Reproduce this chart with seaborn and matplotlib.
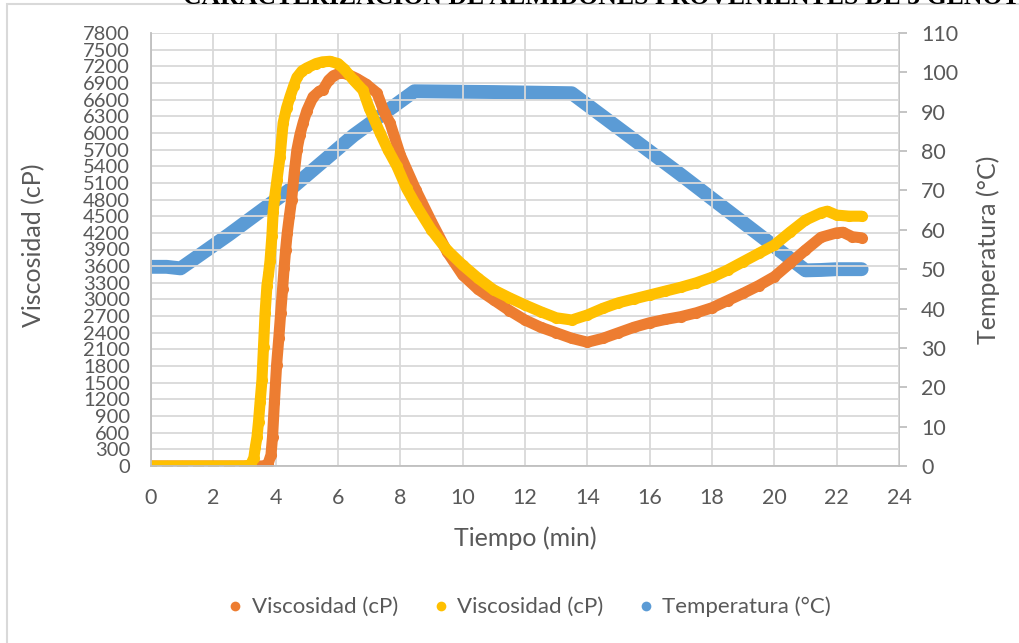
import numpy as np
import pandas as pd
import seaborn as sns
import matplotlib.pyplot as plt
from matplotlib.lines import Line2D
from matplotlib.patches import Rectangle

# viscosidad muestra 1 (naranja)
t_visc1 = [0, 0.5, 1, 1.5, 2, 2.5, 3, 3.3, 3.6, 3.75, 3.85, 3.9, 3.96, 4.03, 4.1, 4.16,
           4.22, 4.27, 4.32, 4.37, 4.44, 4.51, 4.6, 4.68, 4.78, 4.88, 5.0, 5.2, 5.4,
           5.52, 5.7, 5.85, 6.07, 6.3, 6.6, 6.9, 7.25, 7.5, 7.67, 8.0, 8.5, 9.0, 9.5,
           10.0, 10.5, 11.0, 11.5, 12.0, 12.5, 13.0, 13.5, 14.0, 14.5, 15.0, 15.5, 16.0,
           16.5, 17.0, 17.5, 18.0, 18.5, 19.0, 19.5, 20.0, 20.5, 21.0, 21.5, 22.0, 22.2,
           22.5, 22.8]
visc1 = [0, 0, 0, 0, 0, 0, 0, 0, 0, 30, 200, 530, 1150, 1820, 2300, 2750,
         3180, 3560, 3900, 4190, 4500, 4790, 5300, 5690, 5970, 6180, 6400, 6650, 6750,
         6780, 6950, 7030, 7080, 7060, 6980, 6880, 6720, 6350, 6180, 5600, 4970, 4400, 3860,
         3440, 3180, 2990, 2800, 2630, 2500, 2400, 2300, 2230, 2300, 2400, 2500, 2580,
         2640, 2690, 2760, 2850, 2980, 3110, 3250, 3410, 3650, 3890, 4120, 4200, 4210,
         4130, 4110]

# viscosidad muestra 2 (amarillo)
t_visc2 = [0, 0.5, 1, 1.5, 2, 2.5, 3, 3.2, 3.3, 3.35, 3.4, 3.45, 3.5, 3.56, 3.61, 3.66,
           3.72, 3.77, 3.82, 3.88, 3.92, 3.97, 4.04, 4.14, 4.24, 4.35, 4.46, 4.58, 4.68,
           4.85, 5.0, 5.3, 5.5, 5.74, 6.0, 6.2, 6.5, 6.8, 7.0, 7.35, 7.6, 7.89, 8.2, 8.5,
           9.0, 9.5, 10.0, 10.5, 11.0, 11.5, 12.0, 12.5, 13.0, 13.5, 14.0, 14.5, 15.0,
           15.5, 16.0, 16.5, 17.0, 17.5, 18.0, 18.5, 19.0, 19.5, 20.0, 20.5, 21.0, 21.5,
           21.7, 22.0, 22.4, 22.8]
visc2 = [0, 0, 0, 0, 0, 0, 0, 20, 150, 350, 520, 800, 1150, 1550, 2150, 2750,
         3250, 3450, 3700, 4150, 4580, 4850, 5150, 5570, 6180, 6450, 6650, 6850, 7000,
         7120, 7170, 7250, 7280, 7290, 7250, 7150, 6950, 6770, 6450, 6000, 5700, 5400, 5000, 4700,
         4250, 3890, 3620, 3380, 3170, 3030, 2900, 2780, 2670, 2630, 2720, 2840, 2940,
         3010, 3080, 3150, 3220, 3300, 3400, 3530, 3680, 3830, 3980, 4210, 4430, 4560,
         4590, 4520, 4500, 4500]

# temperatura
t_temp = [0, 0.5, 0.95, 2.5, 4.5, 6.5, 8.45, 11.0, 13.5, 17.0, 21.0, 21.5, 22.0, 22.8]
temp = [50.6, 50.6, 50.2, 58.8, 70.5, 84.0, 95.2, 95.0, 94.7, 74.0, 49.7, 49.8, 50.0, 50.0]

orange = "#ED7D31"
yellow = "#FFC000"
blue = "#5B9BD5"
grid_c = "#D9D9D9"
text_c = "#595959"

sns.set_style("white")
plt.rcParams['font.family'] = ['Lato', 'DejaVu Sans']

fig = plt.figure(figsize=(10.2, 6.43), dpi=100)
ax = fig.add_axes([151 / 1020, 1 - 466 / 643, 748 / 1020, 433 / 643])
ax2 = ax.twinx()

# temperatura detras
sns.lineplot(x=t_temp, y=temp, ax=ax2, color=blue, lw=10, estimator=None,
             solid_capstyle='round', solid_joinstyle='round')

sns.lineplot(x=t_visc1, y=visc1, ax=ax, color=orange, lw=8, estimator=None,
             marker='o', markersize=8, markeredgewidth=0,
             solid_capstyle='round', solid_joinstyle='round')
sns.lineplot(x=t_visc2, y=visc2, ax=ax, color=yellow, lw=8, estimator=None,
             marker='o', markersize=8, markeredgewidth=0,
             solid_capstyle='round', solid_joinstyle='round')

ax.set_zorder(ax2.get_zorder() + 1)
ax.patch.set_visible(False)

ax.set_xlim(0, 24)
ax.set_ylim(0, 7800)
ax2.set_ylim(0, 110)
ax.set_xticks(np.arange(0, 25, 2))
ax.set_yticks(np.arange(0, 7801, 300))
ax2.set_yticks(np.arange(0, 111, 10))

ax.grid(True, color=grid_c, lw=1.3)
ax2.grid(False)
ax.set_axisbelow(True)

for a in (ax, ax2):
    for s in a.spines.values():
        s.set_visible(False)
for a, side in ((ax, 'bottom'), (ax, 'left'), (ax2, 'right')):
    a.spines[side].set_visible(True)
    a.spines[side].set_color("#BFBFBF")
    a.spines[side].set_linewidth(1.3)

ax.tick_params(axis='y', length=0, pad=15, labelsize=14.5, labelcolor=text_c)
ax.tick_params(axis='x', length=0, pad=16, labelsize=15.5, labelcolor=text_c)
ax2.tick_params(axis='y', length=6, width=1.3, color="#BFBFBF", pad=10,
                labelsize=15.5, labelcolor=text_c)

ax.set_xlabel("Tiempo (min)", fontsize=18, color=text_c)
ax.set_ylabel("Viscosidad (cP)", fontsize=18, color=text_c)
ax2.set_ylabel("Temperatura (°C)", fontsize=18, color=text_c)
ax.xaxis.set_label_coords(0.5, -0.14)
ax.yaxis.set_label_coords(-0.141, 0.51)
ax2.yaxis.set_label_coords(1.104, 0.5)

handles = [Line2D([], [], ls='none', marker='o', markersize=7, markeredgewidth=0, color=c)
           for c in (orange, yellow, blue)]
fig.legend(handles, ["Viscosidad (cP)", "Viscosidad (cP)", "Temperatura (°C)"],
           loc='center', bbox_to_anchor=(530 / 1020, 1 - 607 / 643), ncol=3,
           frameon=False, fontsize=16, handlelength=0.6, handletextpad=0.45,
           columnspacing=1.6, labelcolor=text_c)

# marco del grafico y titulo cortado
fig.patches.append(Rectangle((7 / 1020, -0.05), 1.0, 1.05 - 4.5 / 643,
                             transform=fig.transFigure, fill=False,
                             edgecolor=grid_c, lw=1.5))
fig.text(183 / 1020, 1 - 3.5 / 643,
         "CARACTERIZACIÓN DE ALMIDONES PROVENIENTES DE 3 GENOTIPOS",
         family=['Liberation Serif', 'DejaVu Serif'], weight='bold',
         fontsize=18.5, va='baseline', ha='left', color='black')

fig.savefig("out.png", dpi=100)
